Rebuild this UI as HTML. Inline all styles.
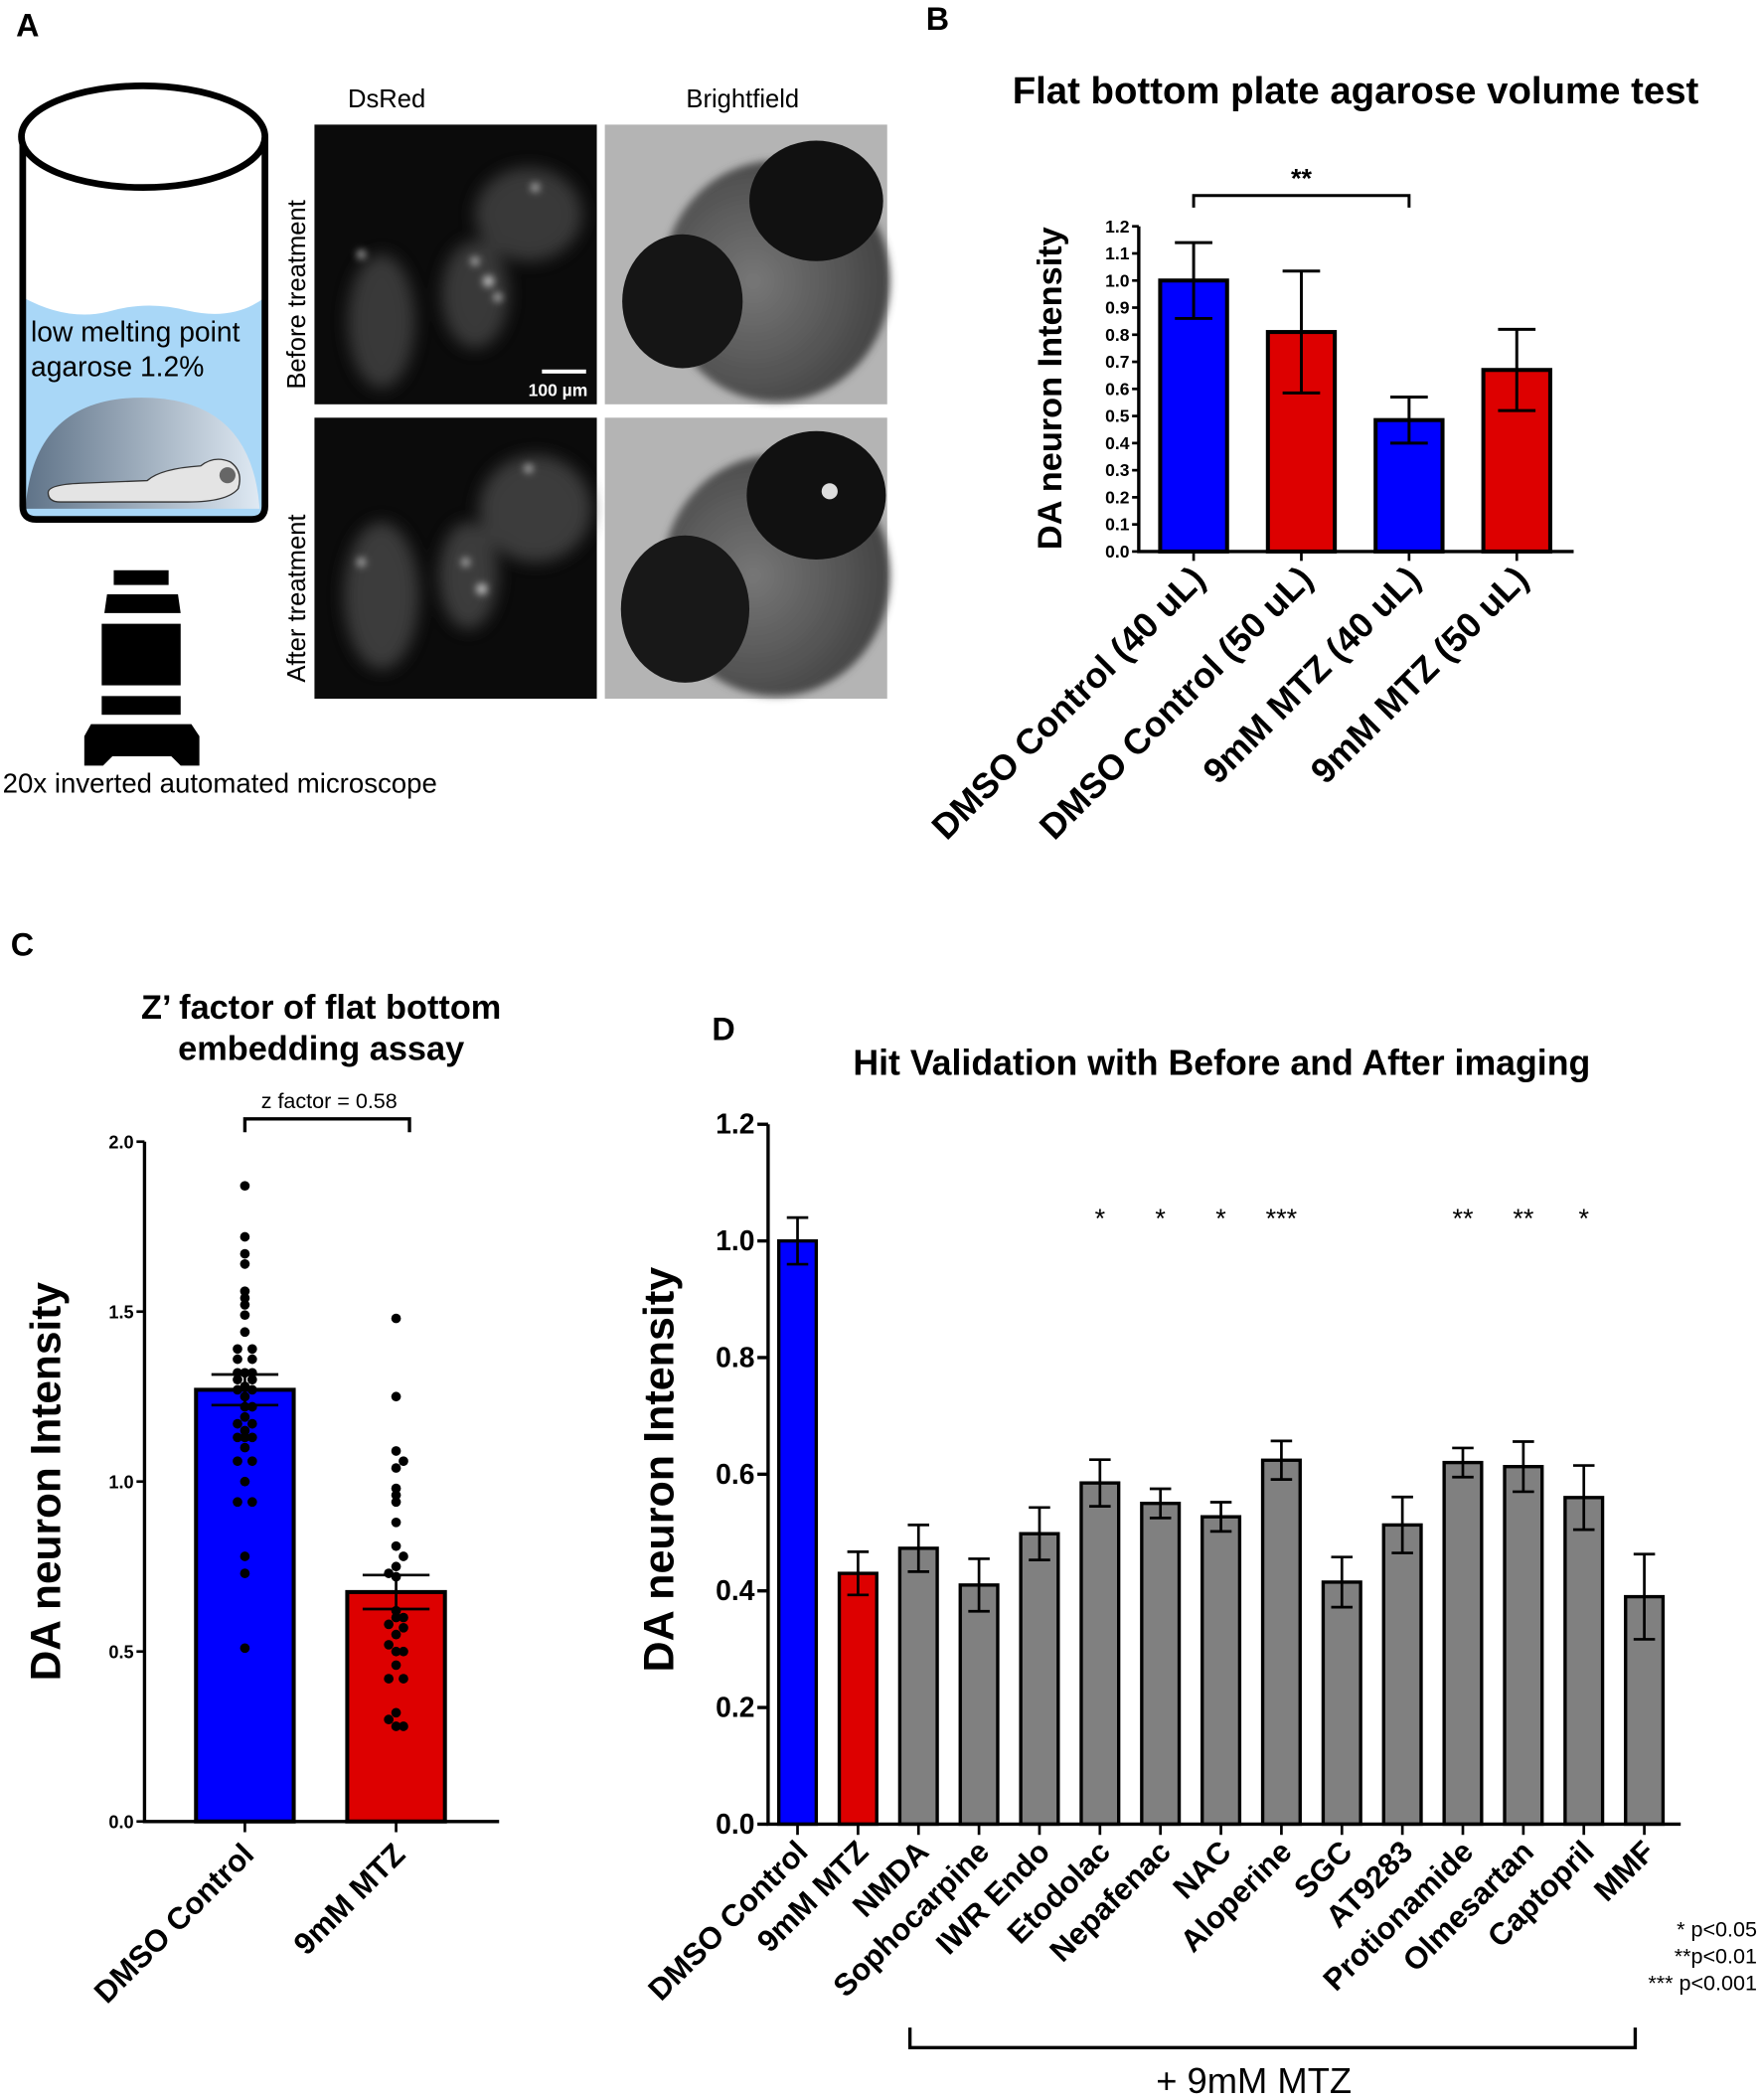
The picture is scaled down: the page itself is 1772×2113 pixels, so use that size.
<!DOCTYPE html>
<html><head><meta charset="utf-8"><style>
html,body{margin:0;padding:0;background:#fff;}
svg{display:block;font-family:"Liberation Sans",Arial,sans-serif;}
</style></head><body>
<svg id="fig" width="1772" height="2113" viewBox="0 0 1316 1569" xmlns="http://www.w3.org/2000/svg">
<defs>
<linearGradient id="dome" x1="0" x2="1" y1="0" y2="0"><stop offset="0" stop-color="#5f7388"/><stop offset="1" stop-color="#dfe9f3"/></linearGradient>
<filter id="blur3"><feGaussianBlur stdDeviation="3"/></filter>
<filter id="blur6"><feGaussianBlur stdDeviation="6"/></filter>
<radialGradient id="bfg" cx="0.4" cy="0.5" r="0.7"><stop offset="0" stop-color="#777"/><stop offset="1" stop-color="#3a3a3a"/></radialGradient>
</defs>

<!-- Panel A -->
<g>
<text x="12" y="27" font-size="24" font-weight="bold">A</text>
<g>
<path d="M17 222 Q50 240 80 233 Q110 224 140 232 Q175 240 198 222 L198 378 Q198 388 188 388 L27 388 Q17 388 17 378 Z" fill="#a9d7f7"/>
<path d="M19 380 Q25 297 106 297 Q188 297 194 380 Z" fill="url(#dome)"/>
<path d="M36 368 Q36 362 60 361 L110 359 Q120 350 150 348 Q160 340 172 345 Q182 352 178 365 Q170 375 140 375 L45 375 Q36 375 36 368 Z" fill="#e4e4e4" stroke="#333" stroke-width="1"/>
<circle cx="170" cy="355" r="6" fill="#666"/>
<path d="M17 102 L17 378 Q17 388 27 388 L188 388 Q198 388 198 378 L198 102" fill="none" stroke="#000" stroke-width="5"/>
<ellipse cx="107" cy="102" rx="91" ry="38" fill="#fff" stroke="#000" stroke-width="5"/>
<text x="23" y="255" font-size="21">low melting point</text>
<text x="23" y="281" font-size="21">agarose 1.2%</text>
</g>
<g fill="#000">
<rect x="85" y="426" width="41" height="11"/>
<path d="M80 444 L133 444 L135 458 L78 458 Z"/>
<rect x="76" y="466" width="59" height="46"/>
<rect x="76" y="520" width="59" height="14"/>
<path d="M68 541 L143 541 L149 550 L149 572 L135 572 L128 565 L84 565 L77 572 L63 572 L63 550 Z"/>
</g>
<text x="2" y="592" font-size="20.5">20x inverted automated microscope</text>
<text x="289" y="80" font-size="19" text-anchor="middle">DsRed</text>
<text x="555" y="80" font-size="19" text-anchor="middle">Brightfield</text>
<text transform="translate(228,220) rotate(-90)" font-size="19" text-anchor="middle">Before treatment</text>
<text transform="translate(228,447) rotate(-90)" font-size="19" text-anchor="middle">After treatment</text>
<g>
<rect x="235" y="93" width="211" height="209" fill="#0b0b0b"/>
<g filter="url(#blur6)" fill="#444" opacity="0.8"><ellipse cx="285" cy="240" rx="25" ry="50"/><ellipse cx="395" cy="160" rx="40" ry="35"/><ellipse cx="355" cy="220" rx="25" ry="40"/></g>
<g filter="url(#blur3)" fill="#ccc"><circle cx="365" cy="210" r="4"/><circle cx="372" cy="222" r="3"/><circle cx="355" cy="195" r="3"/><circle cx="400" cy="140" r="3"/><circle cx="270" cy="190" r="3"/></g>
<rect x="405" y="276" width="33" height="3" fill="#fff"/>
<text x="417" y="296" font-size="13" font-weight="bold" fill="#fff" text-anchor="middle">100 µm</text>
</g>
<g>
<rect x="235" y="312" width="211" height="210" fill="#0b0b0b"/>
<g filter="url(#blur6)" fill="#444" opacity="0.85"><ellipse cx="285" cy="445" rx="28" ry="55"/><ellipse cx="400" cy="380" rx="42" ry="40"/><ellipse cx="350" cy="430" rx="22" ry="40"/></g>
<g filter="url(#blur3)" fill="#ccc"><circle cx="360" cy="440" r="4"/><circle cx="348" cy="420" r="3"/><circle cx="395" cy="350" r="3"/><circle cx="270" cy="420" r="3"/></g>
</g>
<g>
<rect x="452" y="93" width="211" height="209" fill="#b4b4b4"/>
<ellipse cx="580" cy="210" rx="85" ry="90" fill="url(#bfg)" filter="url(#blur3)"/>
<ellipse cx="610" cy="150" rx="50" ry="45" fill="#111"/>
<ellipse cx="510" cy="225" rx="45" ry="50" fill="#151515"/>
</g>
<g>
<rect x="452" y="312" width="211" height="210" fill="#b4b4b4"/>
<ellipse cx="580" cy="430" rx="85" ry="90" fill="url(#bfg)" filter="url(#blur3)"/>
<ellipse cx="610" cy="370" rx="52" ry="48" fill="#111"/>
<ellipse cx="512" cy="455" rx="48" ry="55" fill="#181818"/>
<circle cx="620" cy="367" r="6" fill="#ddd"/>
</g>
</g>

<!-- Panel B -->
<g id="pb">
<text x="692" y="22" font-size="24" font-weight="bold">B</text>
<text x="1013" y="77" font-size="28.5" font-weight="bold" text-anchor="middle">Flat bottom plate agarose volume test</text>
<text transform="translate(793,290) rotate(-90)" font-size="25.5" font-weight="bold" text-anchor="middle">DA neuron Intensity</text>
</g>
<!-- Panel C -->
<g id="pc">
<text x="8" y="714" font-size="24" font-weight="bold">C</text>
<text x="240" y="761" font-size="25.5" font-weight="bold" text-anchor="middle">Z’ factor of flat bottom</text>
<text x="240" y="792" font-size="25.5" font-weight="bold" text-anchor="middle">embedding assay</text>
<text transform="translate(45,1107) rotate(-90)" font-size="31.5" font-weight="bold" text-anchor="middle">DA neuron Intensity</text>
</g>
<!-- Panel D -->
<g id="pd">
<text x="532" y="777" font-size="24" font-weight="bold">D</text>
<text x="913" y="803" font-size="26.5" font-weight="bold" text-anchor="middle">Hit Validation with Before and  After imaging</text>
<text transform="translate(503,1098) rotate(-90)" font-size="32" font-weight="bold" text-anchor="middle">DA neuron Intensity</text>
<path d="M680 1515 L680 1530 L1222 1530 L1222 1515" fill="none" stroke="#000" stroke-width="2.5"/>
<text x="937" y="1564" font-size="27" text-anchor="middle">+ 9mM MTZ</text>
<text x="1313" y="1447" font-size="16" text-anchor="end">* p&lt;0.05</text>
<text x="1313" y="1467" font-size="16" text-anchor="end">**p&lt;0.01</text>
<text x="1313" y="1487" font-size="16" text-anchor="end">*** p&lt;0.001</text>
</g>
</svg>
<script>
// ---- Panel B data ----
const bCats = ["DMSO Control (40 uL)","DMSO Control (50 uL)","9mM MTZ (40 uL)","9mM MTZ (50 uL)"];
const bVals = [1.0, 0.81, 0.485, 0.67];
const bErr = [0.14, 0.225, 0.085, 0.15];
const bColors = ["#0000ff","#dd0000","#0000ff","#dd0000"];
const bTicks = ["0.0","0.1","0.2","0.3","0.4","0.5","0.6","0.7","0.8","0.9","1.0","1.1","1.2"];
// ---- Panel C data ----
const cCats = ["DMSO Control","9mM MTZ"];
const cMeans = [1.27, 0.675];
const cSem = [0.045, 0.05];
const cColors = ["#0000ff","#dd0000"];
const cTicks = ["0.0","0.5","1.0","1.5","2.0"];
const cBluePts = [1.87,1.72,1.67,1.64,1.56,1.54,1.52,1.49,1.44,1.39,1.39,1.36,1.36,1.32,1.32,1.32,1.30,1.30,1.28,1.27,1.27,1.25,1.22,1.22,1.19,1.17,1.17,1.15,1.13,1.13,1.13,1.10,1.06,1.06,1.00,0.94,0.94,0.78,0.73,0.51];
const cBlueJit = [0,0,0,0,0,0,0,0,0,-1,1,-1,1,-1,0,1,-1,1,0,-1,1,0,0,1,0,-1,1,0,-1,0,1,0,-1,1,0,-1,1,0,0,0];
const cRedPts = [1.48,1.25,1.09,1.04,1.06,0.98,0.96,0.94,0.88,0.81,0.78,0.75,0.73,0.72,0.62,0.60,0.60,0.58,0.57,0.55,0.52,0.50,0.50,0.46,0.42,0.42,0.32,0.30,0.28,0.28];
const cRedJit = [0,0,0,0,1,0,0,0,0,0,1,0,-1,0,0,0,1,-1,1,0,-1,0,1,0,-1,1,0,-1,1,0];
// ---- Panel D data ----
const dCats = ["DMSO Control","9mM MTZ","NMDA","Sophocarpine","IWR Endo","Etodolac","Nepafenac","NAC","Aloperine","SGC","AT9283","Protionamide","Olmesartan","Captopril","MMF"];
const dVals = [1.0,0.43,0.473,0.41,0.498,0.585,0.55,0.527,0.624,0.415,0.513,0.62,0.613,0.56,0.39];
const dErr = [0.04,0.037,0.04,0.045,0.045,0.04,0.025,0.025,0.033,0.043,0.048,0.025,0.043,0.055,0.073];
const dStars = ["","","","","","*","*","*","***","","","**","**","*",""];
const dColors = ["#0000ff","#dd0000","#808080","#808080","#808080","#808080","#808080","#808080","#808080","#808080","#808080","#808080","#808080","#808080","#808080"];
const dTicks = ["0.0","0.2","0.4","0.6","0.8","1.0","1.2"];

const NS = "http://www.w3.org/2000/svg";
function mk(parent, tag, attrs, txt){
  const e = document.createElementNS(NS, tag);
  for (const k in attrs) e.setAttribute(k, attrs[k]);
  if (txt !== undefined) e.textContent = txt;
  parent.appendChild(e);
  return e;
}

// Panel B
(function(){
  const g = document.getElementById("pb");
  const x0 = 851, y0 = 412, yTop = 169, yMax = 1.2, xStart = 892, step = 80.5, bw = 50;
  const ys = v => y0 - v / yMax * (y0 - yTop);
  const xs = i => xStart + i * step;
  bTicks.forEach((t) => {
    const v = parseFloat(t);
    const tk = mk(g, "line", {x1: x0-5, x2: x0, y1: ys(v), y2: ys(v), stroke: "#000", "stroke-width": 2});
    
    
    const lb = mk(g, "text", {x: x0-7, y: ys(v)+4.5, "font-size": 13, "font-weight": "bold", "text-anchor": "end"}, t);
    
    
  });
  bVals.forEach((v, i) => {
    const r = mk(g, "rect", {x: xs(i)-bw/2, y: ys(v), width: bw, height: y0-ys(v), fill: bColors[i], stroke: "#000", "stroke-width": 3});
    
    
    const e = mk(g, "path", {d: `M${xs(i)} ${ys(v-bErr[i])} V${ys(v+bErr[i])} M${xs(i)-14} ${ys(v+bErr[i])} H${xs(i)+14} M${xs(i)-14} ${ys(v-bErr[i])} H${xs(i)+14}`, stroke: "#000", "stroke-width": 2.2, fill: "none"});
    
    
    const tk = mk(g, "line", {x1: xs(i), x2: xs(i), y1: y0, y2: y0+7, stroke: "#000", "stroke-width": 2});
    
    
    const lb = mk(g, "text", {transform: `translate(${xs(i)+10},${y0+22}) rotate(-45)`, "font-size": 26.5, "font-weight": "bold", "text-anchor": "end"}, bCats[i]);
    
    
  });
  const ax = mk(g, "path", {d: `M${x0} ${yTop} V${y0} H1176`, stroke: "#000", "stroke-width": 2.5, fill: "none"});
  
  
  const br = mk(g, "path", {d: `M${xs(0)} 155 V146 H${xs(2)} V155`, stroke: "#000", "stroke-width": 2.2, fill: "none"});
  
  
  const st = mk(g, "text", {x: (xs(0)+xs(2))/2, y: 140, "font-size": 20, "font-weight": "bold", "text-anchor": "middle"}, "**");
  
  
})();

// Panel C
(function(){
  const g = document.getElementById("pc");
  const x0 = 108, y0 = 1361, yTop = 853, yMax = 2.0, bw = 73;
  const centers = [183, 296];
  const ys = v => y0 - v / yMax * (y0 - yTop);
  cTicks.forEach(t => {
    const v = parseFloat(t);
    const tk = mk(g, "line", {x1: x0-6, x2: x0, y1: ys(v), y2: ys(v), stroke: "#000", "stroke-width": 2});
    
    
    const lb = mk(g, "text", {x: x0-8, y: ys(v)+5, "font-size": 13.5, "font-weight": "bold", "text-anchor": "end"}, t);
    
    
  });
  cMeans.forEach((v, i) => {
    const cx = centers[i];
    const r = mk(g, "rect", {x: cx-bw/2, y: ys(v), width: bw, height: y0-ys(v), fill: cColors[i], stroke: "#000", "stroke-width": 3});
    
    
  });
  const dot = (vals, jit, cx) => vals.forEach((v, k) => {
    const c = mk(g, "circle", {cx: cx + jit[k]*5.5, cy: ys(v), r: 3.6, fill: "#000"});
    
    
  });
  dot(cBluePts, cBlueJit, centers[0]);
  dot(cRedPts, cRedJit, centers[1]);
  cMeans.forEach((v, i) => {
    const cx = centers[i];
    const e = mk(g, "path", {d: `M${cx} ${ys(v-cSem[i])} V${ys(v+cSem[i])} M${cx-25} ${ys(v+cSem[i])} H${cx+25} M${cx-25} ${ys(v-cSem[i])} H${cx+25}`, stroke: "#000", "stroke-width": 2, fill: "none"});
    
    
    const tk = mk(g, "line", {x1: cx, x2: cx, y1: y0, y2: y0+8, stroke: "#000", "stroke-width": 2});
    
    
    const lb = mk(g, "text", {transform: `translate(${cx+8},${y0+26}) rotate(-45)`, "font-size": 23, "font-weight": "bold", "text-anchor": "end"}, cCats[i]);
    
    
  });
  const ax = mk(g, "path", {d: `M${x0} ${yTop} V${y0} H373`, stroke: "#000", "stroke-width": 2.5, fill: "none"});
  
  
  const br = mk(g, "path", {d: `M${centers[0]} 846 V836 H${centers[1]+10} V846`, stroke: "#000", "stroke-width": 2.5, fill: "none"});
  
  
  const zt = mk(g, "text", {x: 246, y: 828, "font-size": 16, "text-anchor": "middle"}, "z factor = 0.58");
  
  
})();

// Panel D
(function(){
  const g = document.getElementById("pd");
  const x0 = 574, y0 = 1363, yTop = 840, yMax = 1.2, xStart = 596, step = 45.2, bw = 28;
  const ys = v => y0 - v / yMax * (y0 - yTop);
  const xs = i => xStart + i * step;
  dTicks.forEach(t => {
    const v = parseFloat(t);
    const tk = mk(g, "line", {x1: x0-8, x2: x0, y1: ys(v), y2: ys(v), stroke: "#000", "stroke-width": 2.5});
    
    
    const lb = mk(g, "text", {x: x0-10, y: ys(v)+7, "font-size": 21, "font-weight": "bold", "text-anchor": "end"}, t);
    
    
  });
  dVals.forEach((v, i) => {
    const cx = xs(i);
    const r = mk(g, "rect", {x: cx-bw/2, y: ys(v), width: bw, height: y0-ys(v), fill: dColors[i], stroke: "#000", "stroke-width": 2.5});
    
    
    const e = mk(g, "path", {d: `M${cx} ${ys(v-dErr[i])} V${ys(v+dErr[i])} M${cx-8} ${ys(v+dErr[i])} H${cx+8} M${cx-8} ${ys(v-dErr[i])} H${cx+8}`, stroke: "#000", "stroke-width": 2, fill: "none"});
    
    
    const tk = mk(g, "line", {x1: cx, x2: cx, y1: y0, y2: y0+8, stroke: "#000", "stroke-width": 2});
    
    
    const lb = mk(g, "text", {transform: `translate(${cx+9},${y0+22}) rotate(-45)`, "font-size": 23, "font-weight": "bold", "text-anchor": "end"}, dCats[i]);
    
    
    if (dStars[i]) {
      const s = mk(g, "text", {x: cx, y: 917, "font-size": 20, "text-anchor": "middle"}, dStars[i]);
      
      
    }
  });
  const ax = mk(g, "path", {d: `M${x0} ${yTop} V${y0} H1256`, stroke: "#000", "stroke-width": 2.5, fill: "none"});
  
  
})();
</script>
</body></html>
